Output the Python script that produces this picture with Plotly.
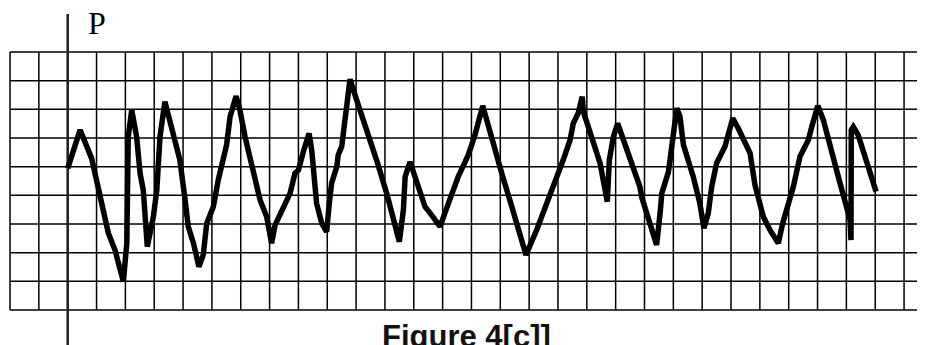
import plotly.graph_objects as go

# Waveform P(t), in grid units (t: cells right of the P axis, p: cells above bottom grid line)
t = [0.00, 0.43, 0.83, 1.01, 1.23, 1.41, 1.64, 1.93, 2.05, 2.10, 2.22, 2.39, 2.51, 2.62, 2.76, 2.97, 3.09, 3.20, 3.37, 3.61, 3.78,
     3.89, 4.07, 4.18, 4.36, 4.55, 4.70, 4.82, 5.05, 5.22, 5.51, 5.63, 5.84, 5.97, 6.15, 6.44, 6.67, 6.90, 7.07, 7.19, 7.42, 7.71, 7.88,
     8.00, 8.17, 8.37, 8.46, 8.58, 8.63, 8.81, 8.98, 9.07, 9.15, 9.33, 9.38, 9.50, 9.62, 9.79, 10.02, 10.37, 10.71, 11.06, 11.29, 11.50,
     11.64, 11.70, 11.87,
     12.10, 12.39, 12.62, 12.91, 13.20, 13.54, 13.89, 14.12, 14.39, 14.58, 15.05, 15.40, 15.89,
     16.26, 16.72, 17.18, 17.42, 17.53, 17.70, 17.84, 17.88, 18.17, 18.46, 18.71, 18.78, 18.92, 19.07, 19.27, 19.61, 19.84,
     19.90, 20.13, 20.42, 20.54, 20.60, 20.83, 20.94, 21.12, 21.23, 21.35, 21.69, 21.92, 22.06, 22.21, 22.33, 22.50, 22.79, 23.06,
     23.25, 23.54, 23.66, 23.83,
     24.12, 24.35, 24.64, 24.79, 24.93, 25.16, 25.39, 25.68, 25.80, 26.01, 26.20, 26.49, 26.78, 27.13, 27.16, 27.17, 27.24, 27.41,
     27.65, 27.82, 28.03]
p = [4.94, 6.28, 5.29, 4.48, 3.60, 2.68, 2.09, 0.99, 2.34, 6.04, 6.98, 6.04, 4.77, 4.19, 2.21, 3.25, 4.19, 6.04, 7.27, 6.28, 5.58,
     5.23, 3.84, 2.91, 2.33, 1.51, 1.92, 3.02, 3.60, 4.53, 5.76, 6.74, 7.46, 6.98, 6.04, 4.88, 3.84, 3.25, 2.33, 2.96, 3.49, 4.07, 4.77,
     4.88, 5.52, 6.16, 5.58, 4.30, 3.72, 3.02, 2.73, 3.72, 4.42, 5.00, 5.41, 5.70, 6.86, 8.05, 7.32, 6.28, 5.23, 4.07, 3.25, 2.38,
     3.49, 4.65, 5.17,
     4.42, 3.60, 3.31, 2.91, 3.72, 4.65, 5.41, 6.10, 7.12, 6.39, 4.77, 3.60, 1.92,
     2.79, 3.95, 5.23, 5.93, 6.51, 6.86, 7.44, 6.92, 6.04, 5.12, 3.78, 5.23, 6.04, 6.51, 5.93, 5.00, 4.30,
     3.95, 3.25, 2.27, 3.37, 4.07, 4.82, 5.81, 7.04, 6.74, 5.76, 4.65, 3.72, 2.85, 3.37, 4.30, 5.12, 5.70, 6.69,
     6.34, 5.70, 5.47, 4.36,
     3.25, 2.79, 2.33, 3.02, 3.49, 4.30, 5.35, 5.93, 6.39, 7.12, 6.63, 5.47, 4.42, 3.14, 2.44, 6.28, 6.39, 6.10,
     5.35, 4.77, 4.13]

axis_label = "P"
caption = "Figure 4[c]]"

# grid extent (in cells)
grid_cols = list(range(-2, 30))
grid_rows = list(range(0, 10))

# page body has an 8px margin, so the figure starts at (8, 8) in the window
OFF = 8
XU, YU = 28.84, 28.67          # pixels per cell
X0, Y0 = 67.7 - OFF, 310.0 - OFF   # pixel position of the origin inside the figure
W, H = 925 - OFF, 345 - OFF
xr = [-X0 / XU, (W - X0) / XU]
yr = [-(H - Y0) / YU, Y0 / YU]

fig = go.Figure()

shapes = []
for c in grid_cols:
    shapes.append(dict(type="line", xref="x", yref="y", x0=c, x1=c, y0=0, y1=9,
                       line=dict(color="black", width=1.5), layer="below"))
for r in grid_rows:
    shapes.append(dict(type="line", xref="x", yref="y", x0=-2, x1=xr[1], y0=r, y1=r,
                       line=dict(color="black", width=1.5), layer="below"))
# vertical P axis
shapes.append(dict(type="line", xref="x", yref="y", x0=0, x1=0, y0=yr[0], y1=(Y0 - (14 - OFF)) / YU,
                   line=dict(color="#222222", width=2.5), layer="below"))

fig.add_trace(go.Scatter(x=t, y=p, mode="lines",
                         line=dict(color="black", width=5.5), hoverinfo="skip",
                         showlegend=False))

fig.update_layout(
    width=W, height=H,
    margin=dict(l=0, r=0, t=0, b=0),
    paper_bgcolor="white", plot_bgcolor="white",
    xaxis=dict(range=xr, visible=False, fixedrange=True),
    yaxis=dict(range=yr, visible=False, fixedrange=True),
    shapes=shapes,
    annotations=[
        dict(text=axis_label, x=(97 - OFF - X0) / XU, y=(Y0 - (23 - OFF)) / YU, xref="x", yref="y",
             showarrow=False, font=dict(family="Liberation Serif", size=32, color="black")),
        dict(text="<b>" + caption + "</b>", x=(466 - OFF - X0) / XU, y=(Y0 - (336 - OFF)) / YU,
             xref="x", yref="y",
             showarrow=False, font=dict(family="Liberation Sans", size=31, color="#111111")),
    ],
)

fig.write_html("out.html")
